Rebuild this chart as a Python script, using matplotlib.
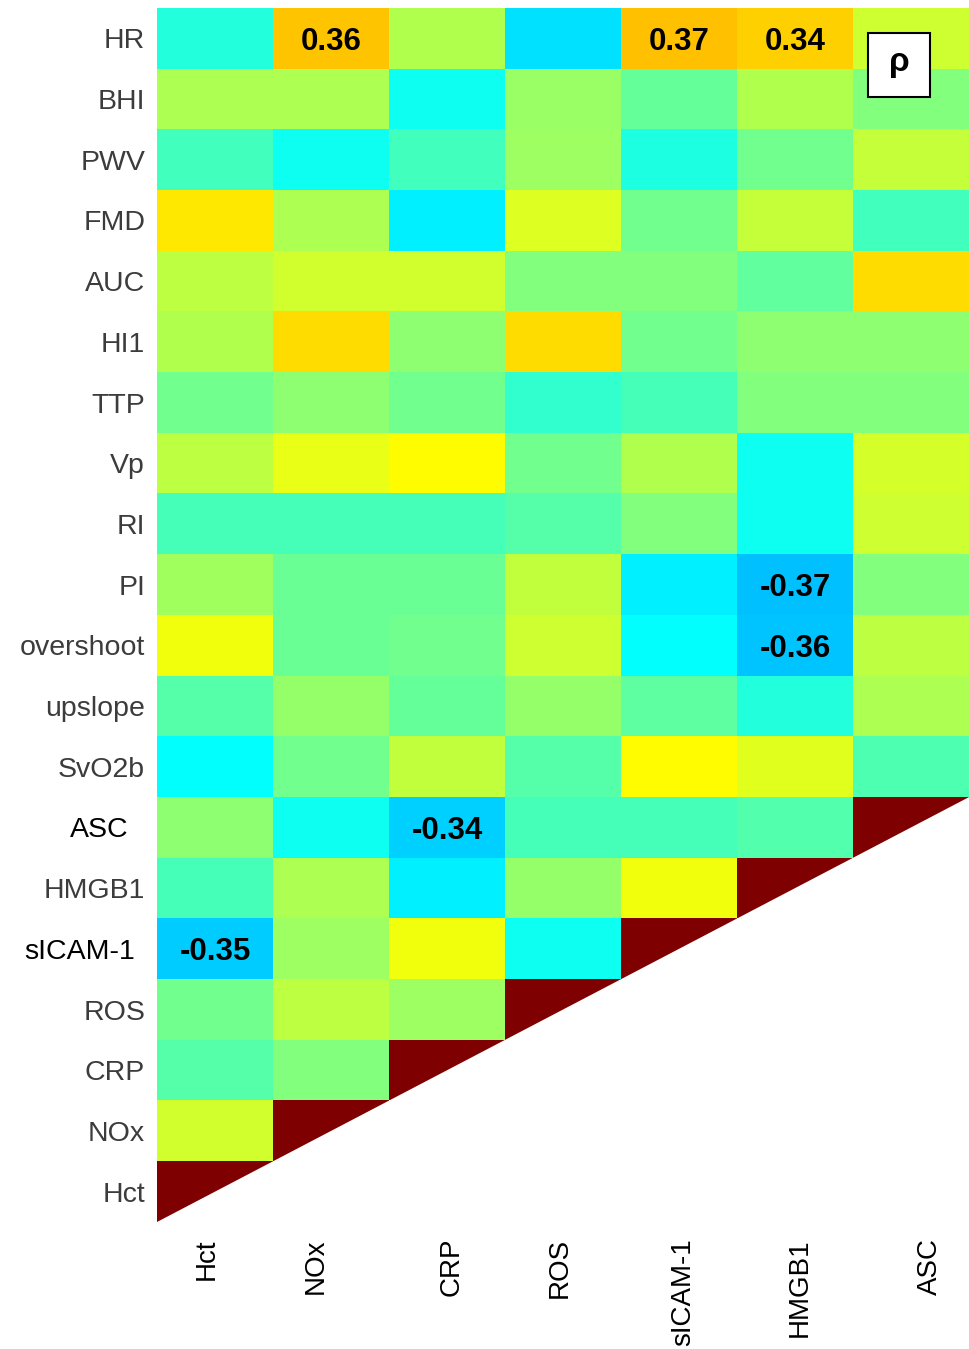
import numpy as np
import matplotlib
matplotlib.use("Agg")
import matplotlib.pyplot as plt
from matplotlib.colors import LinearSegmentedColormap
from matplotlib.patches import Polygon, Rectangle
import matplotlib.transforms as mtransforms

plt.rcParams['font.family'] = ['Liberation Sans', 'DejaVu Sans']

# labels
row_labels = ['HR', 'BHI', 'PWV', 'FMD', 'AUC', 'HI1', 'TTP', 'Vp', 'RI', 'PI',
              'overshoot', 'upslope', 'SvO2b', 'ASC', 'HMGB1', 'sICAM-1',
              'ROS', 'CRP', 'NOx', 'Hct']
col_labels = ['Hct', 'NOx', 'CRP', 'ROS', 'sICAM-1', 'HMGB1', 'ASC']

nan = np.nan
# Spearman rho per column, rows top (HR) to bottom (Hct)
rho_hct = [-0.18, 0.09, -0.125, 0.29, 0.12, 0.10, -0.025, 0.12, -0.11, 0.07,
           0.22, -0.08, -0.25, 0.03, -0.11, -0.35, -0.025, -0.08, 0.16, 1.0]
rho_nox = [0.36, 0.09, -0.22, 0.09, 0.16, 0.315, 0.03, 0.21, -0.11, -0.04,
           -0.04, 0.04, -0.025, -0.22, 0.09, 0.06, 0.12, 0.0, 1.0, nan]
rho_crp = [0.10, -0.22, -0.12, -0.28, 0.16, 0.03, -0.025, 0.25, -0.11, -0.04,
           -0.025, -0.05, 0.13, -0.34, -0.28, 0.22, 0.06, 1.0, nan, nan]
rho_ros = [-0.31, 0.05, 0.06, 0.18, 0.0, 0.315, -0.15, -0.025, -0.08, 0.13,
           0.15, 0.04, -0.08, -0.11, 0.04, -0.22, 1.0, nan, nan, nan]
rho_sicam = [0.37, -0.05, -0.19, -0.025, 0.0, -0.025, -0.11, 0.10, 0.0, -0.28,
             -0.25, -0.07, 0.25, -0.11, 0.22, 1.0, nan, nan, nan, nan]
rho_hmgb1 = [0.34, 0.10, -0.025, 0.14, -0.06, 0.03, 0.0, -0.22, -0.22, -0.37,
             -0.36, -0.18, 0.19, -0.09, 1.0, nan, nan, nan, nan, nan]
rho_asc = [0.15, 0.0, 0.14, -0.12, 0.32, 0.03, 0.0, 0.17, 0.15, 0.0,
           0.12, 0.09, -0.10, 1.0, nan, nan, nan, nan, nan, nan]

rho = np.array([rho_hct, rho_nox, rho_crp, rho_ros, rho_sicam, rho_hmgb1, rho_asc]).T
n_rows, n_cols = rho.shape

# matlab style jet
jet = LinearSegmentedColormap('mjet', {
    'red':   [(0, 0, 0), (3/8, 0, 0), (5/8, 1, 1), (7/8, 1, 1), (1, 0.5, 0.5)],
    'green': [(0, 0, 0), (1/8, 0, 0), (3/8, 1, 1), (5/8, 1, 1), (7/8, 0, 0), (1, 0, 0)],
    'blue':  [(0, 0.5, 0.5), (1/8, 1, 1), (3/8, 1, 1), (5/8, 0, 0), (1, 0, 0)],
}, N=256)
jet.set_bad('white')

fig = plt.figure(figsize=(9.69, 13.49), dpi=100)
ax = fig.add_axes([157/969, 1 - 1222/1349, 812/969, 1214/1349])

ax.imshow(np.ma.masked_invalid(rho), cmap=jet, vmin=-1, vmax=1,
          aspect='auto', interpolation='nearest')

# cut the diagonal cells / lower part with a white triangle
tri = Polygon([(-0.5, n_rows - 0.5), (n_cols - 0.5, n_rows - 0.5 - n_cols),
               (n_cols - 0.5, n_rows - 0.5)],
              closed=True, facecolor='white', edgecolor='none', zorder=2)
ax.add_patch(tri)

# significant values
for i in range(n_rows):
    for j in range(n_cols):
        v = rho[i, j]
        if np.isfinite(v) and 0.335 <= abs(v) < 1:
            ax.text(j, i, f'{v:.2f}', ha='center', va='center_baseline',
                    fontsize=22.5, fontweight='bold', color='black', zorder=3)

ax.set_xlim(-0.5, n_cols - 0.5)
ax.set_ylim(n_rows - 0.5, -0.5)
for s in ax.spines.values():
    s.set_visible(False)

# y labels
ax.set_yticks(np.arange(n_rows))
ax.set_yticklabels(row_labels, fontsize=20.5, color='#3c3c3c')
ax.tick_params(axis='y', length=0, pad=8.5)
ylab_shift = {'ASC': 17, 'sICAM-1': 10}
for lab in ax.get_yticklabels():
    t = lab.get_text()
    if t in ylab_shift:
        lab.set_color('black')
        lab.set_x(-ylab_shift[t] / 812)

# x labels (a bit irregular in the original)
ax.set_xticks([])
xlab_shift = [-8, -15, 5, -3, 4, 5, 19]
trans = mtransforms.blended_transform_factory(ax.transData, ax.transAxes)
for j, name in enumerate(col_labels):
    off = mtransforms.ScaledTranslation(xlab_shift[j] / 100, 0, fig.dpi_scale_trans)
    ax.text(j, -16 / 1214, name, rotation=90, ha='center', va='top',
            fontsize=20, color='black', transform=trans + off)

# rho box
ax.add_patch(Rectangle(((868 - 157) / 812, 1 - (97 - 8) / 1214), 62 / 812, 64 / 1214,
                       transform=ax.transAxes, facecolor='white',
                       edgecolor='black', linewidth=1.5, zorder=4))
ax.text((899 - 157) / 812, 1 - (63 - 8) / 1214, 'ρ', transform=ax.transAxes,
        ha='center', va='center', fontsize=24, fontweight='bold', zorder=5)

fig.savefig('out.png', dpi=100)
